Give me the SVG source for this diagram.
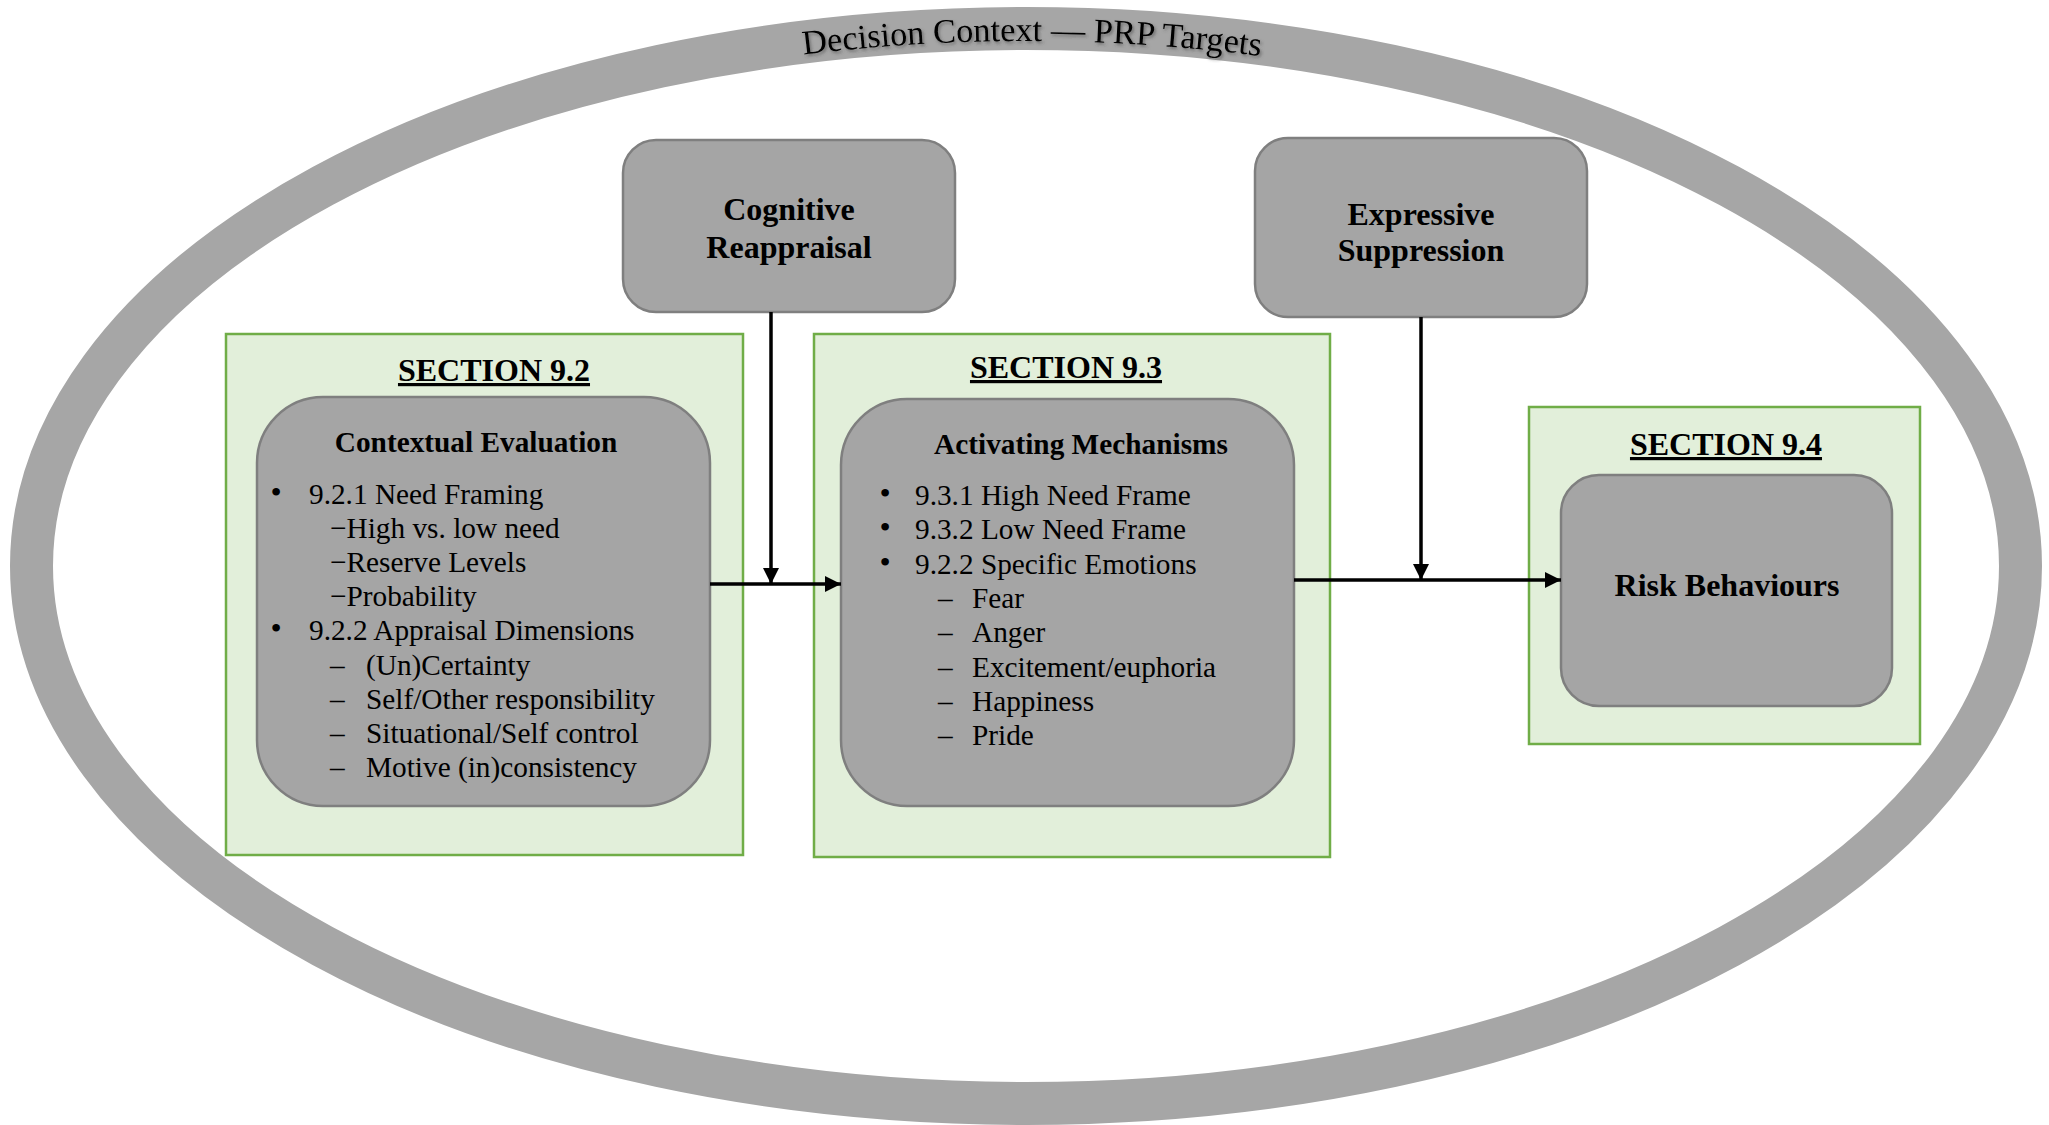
<svg xmlns="http://www.w3.org/2000/svg" width="2049" height="1125" viewBox="0 0 2049 1125">
  <defs>
    <style>
      .ring { fill: none; stroke: #a6a6a6; stroke-width: 43; }
      .section { fill: #e2efda; stroke: #70ad47; stroke-width: 2.5; }
      .box { fill: #a5a5a5; stroke: #7f7f7f; stroke-width: 2.5; }
      .serif { font-family: "Liberation Serif", "Times New Roman", serif; fill: #000; }
      .title { font-size: 32px; font-weight: bold; text-anchor: middle; text-decoration: underline; }
      .head { font-size: 29.3px; font-weight: bold; text-anchor: middle; }
      .label { font-size: 32px; font-weight: bold; text-anchor: middle; }
      .body { font-size: 29.3px; }
      .dot { font-size: 32px; text-anchor: middle; }
      .arc-label { font-size: 34.3px; }
      .wire { fill: none; stroke: #000; stroke-width: 3.5; }
    </style>
    <marker id="arrow" viewBox="0 0 16 16" refX="16" refY="8" markerWidth="16" markerHeight="16" markerUnits="userSpaceOnUse" orient="auto">
      <path d="M0,0 L16,8 L0,16 Z" fill="#000"/>
    </marker>
    <filter id="soft-shadow" x="-5%" y="-30%" width="110%" height="160%">
      <feDropShadow dx="1.5" dy="2" stdDeviation="1.5" flood-color="#404040" flood-opacity="0.55"/>
    </filter>
    <path id="ring-baseline" d="M 44,566 A 982 525 0 0 1 2008,566"/>
  </defs>

  <!-- outer context ring with its arched caption -->
  <g id="decision-context">
    <ellipse class="ring" cx="1026" cy="566" rx="994.5" ry="537.5"/>
    <text class="serif arc-label" filter="url(#soft-shadow)">
      <textPath href="#ring-baseline" startOffset="50.25%" text-anchor="middle">Decision Context — PRP Targets</textPath>
    </text>
  </g>

  <!-- section 9.2 -->
  <g id="section-9-2">
    <rect class="section" x="226" y="334" width="517" height="521"/>
    <text class="serif title" x="494" y="381">SECTION 9.2</text>
  </g>
  <g id="contextual-evaluation">
    <rect class="box" x="257" y="397" width="453" height="409" rx="66" ry="66"/>
    <text class="serif head" x="476" y="452">Contextual Evaluation</text>
    <g class="serif body">
      <text class="dot" x="276" y="503">•</text>
      <text x="309" y="504">9.2.1 Need Framing</text>
      <text x="330" y="538">−High vs. low need</text>
      <text x="330" y="572">−Reserve Levels</text>
      <text x="330" y="606">−Probability</text>
      <text class="dot" x="276" y="639">•</text>
      <text x="309" y="640">9.2.2 Appraisal Dimensions</text>
      <text x="330" y="675">–</text>
      <text x="366" y="675">(Un)Certainty</text>
      <text x="330" y="709">–</text>
      <text x="366" y="709">Self/Other responsibility</text>
      <text x="330" y="743">–</text>
      <text x="366" y="743">Situational/Self control</text>
      <text x="330" y="777">–</text>
      <text x="366" y="777">Motive (in)consistency</text>
    </g>
  </g>

  <!-- section 9.3 -->
  <g id="section-9-3">
    <rect class="section" x="814" y="334" width="516" height="523"/>
    <text class="serif title" x="1066" y="378">SECTION 9.3</text>
  </g>
  <g id="activating-mechanisms">
    <rect class="box" x="841" y="399" width="453" height="407" rx="66" ry="66"/>
    <text class="serif head" x="1081" y="454">Activating Mechanisms</text>
    <g class="serif body">
      <text class="dot" x="885" y="504">•</text>
      <text x="915" y="505">9.3.1 High Need Frame</text>
      <text class="dot" x="885" y="538">•</text>
      <text x="915" y="539">9.3.2 Low Need Frame</text>
      <text class="dot" x="885" y="573">•</text>
      <text x="915" y="574">9.2.2 Specific Emotions</text>
      <text x="938" y="608">–</text>
      <text x="972" y="608">Fear</text>
      <text x="938" y="642">–</text>
      <text x="972" y="642">Anger</text>
      <text x="938" y="677">–</text>
      <text x="972" y="677">Excitement/euphoria</text>
      <text x="938" y="711">–</text>
      <text x="972" y="711">Happiness</text>
      <text x="938" y="745">–</text>
      <text x="972" y="745">Pride</text>
    </g>
  </g>

  <!-- section 9.4 -->
  <g id="section-9-4">
    <rect class="section" x="1529" y="407" width="391" height="337"/>
    <text class="serif title" x="1726" y="455">SECTION 9.4</text>
  </g>
  <g id="risk-behaviours">
    <rect class="box" x="1561" y="475" width="331" height="231" rx="38" ry="38"/>
    <text class="serif label" x="1727" y="596">Risk Behaviours</text>
  </g>

  <!-- regulation strategies -->
  <g id="cognitive-reappraisal">
    <rect class="box" x="623" y="140" width="332" height="172" rx="33" ry="33"/>
    <text class="serif label" x="789" y="220">Cognitive</text>
    <text class="serif label" x="789" y="258">Reappraisal</text>
  </g>
  <g id="expressive-suppression">
    <rect class="box" x="1255" y="138" width="332" height="179" rx="33" ry="33"/>
    <text class="serif label" x="1421" y="225">Expressive</text>
    <text class="serif label" x="1421" y="261">Suppression</text>
  </g>

  <!-- connectors -->
  <g id="connectors">
    <line class="wire" x1="710" y1="584" x2="841" y2="584" marker-end="url(#arrow)"/>
    <line class="wire" x1="771" y1="312" x2="771" y2="584" marker-end="url(#arrow)"/>
    <line class="wire" x1="1294" y1="580" x2="1561" y2="580" marker-end="url(#arrow)"/>
    <line class="wire" x1="1421" y1="317" x2="1421" y2="580" marker-end="url(#arrow)"/>
  </g>
</svg>
